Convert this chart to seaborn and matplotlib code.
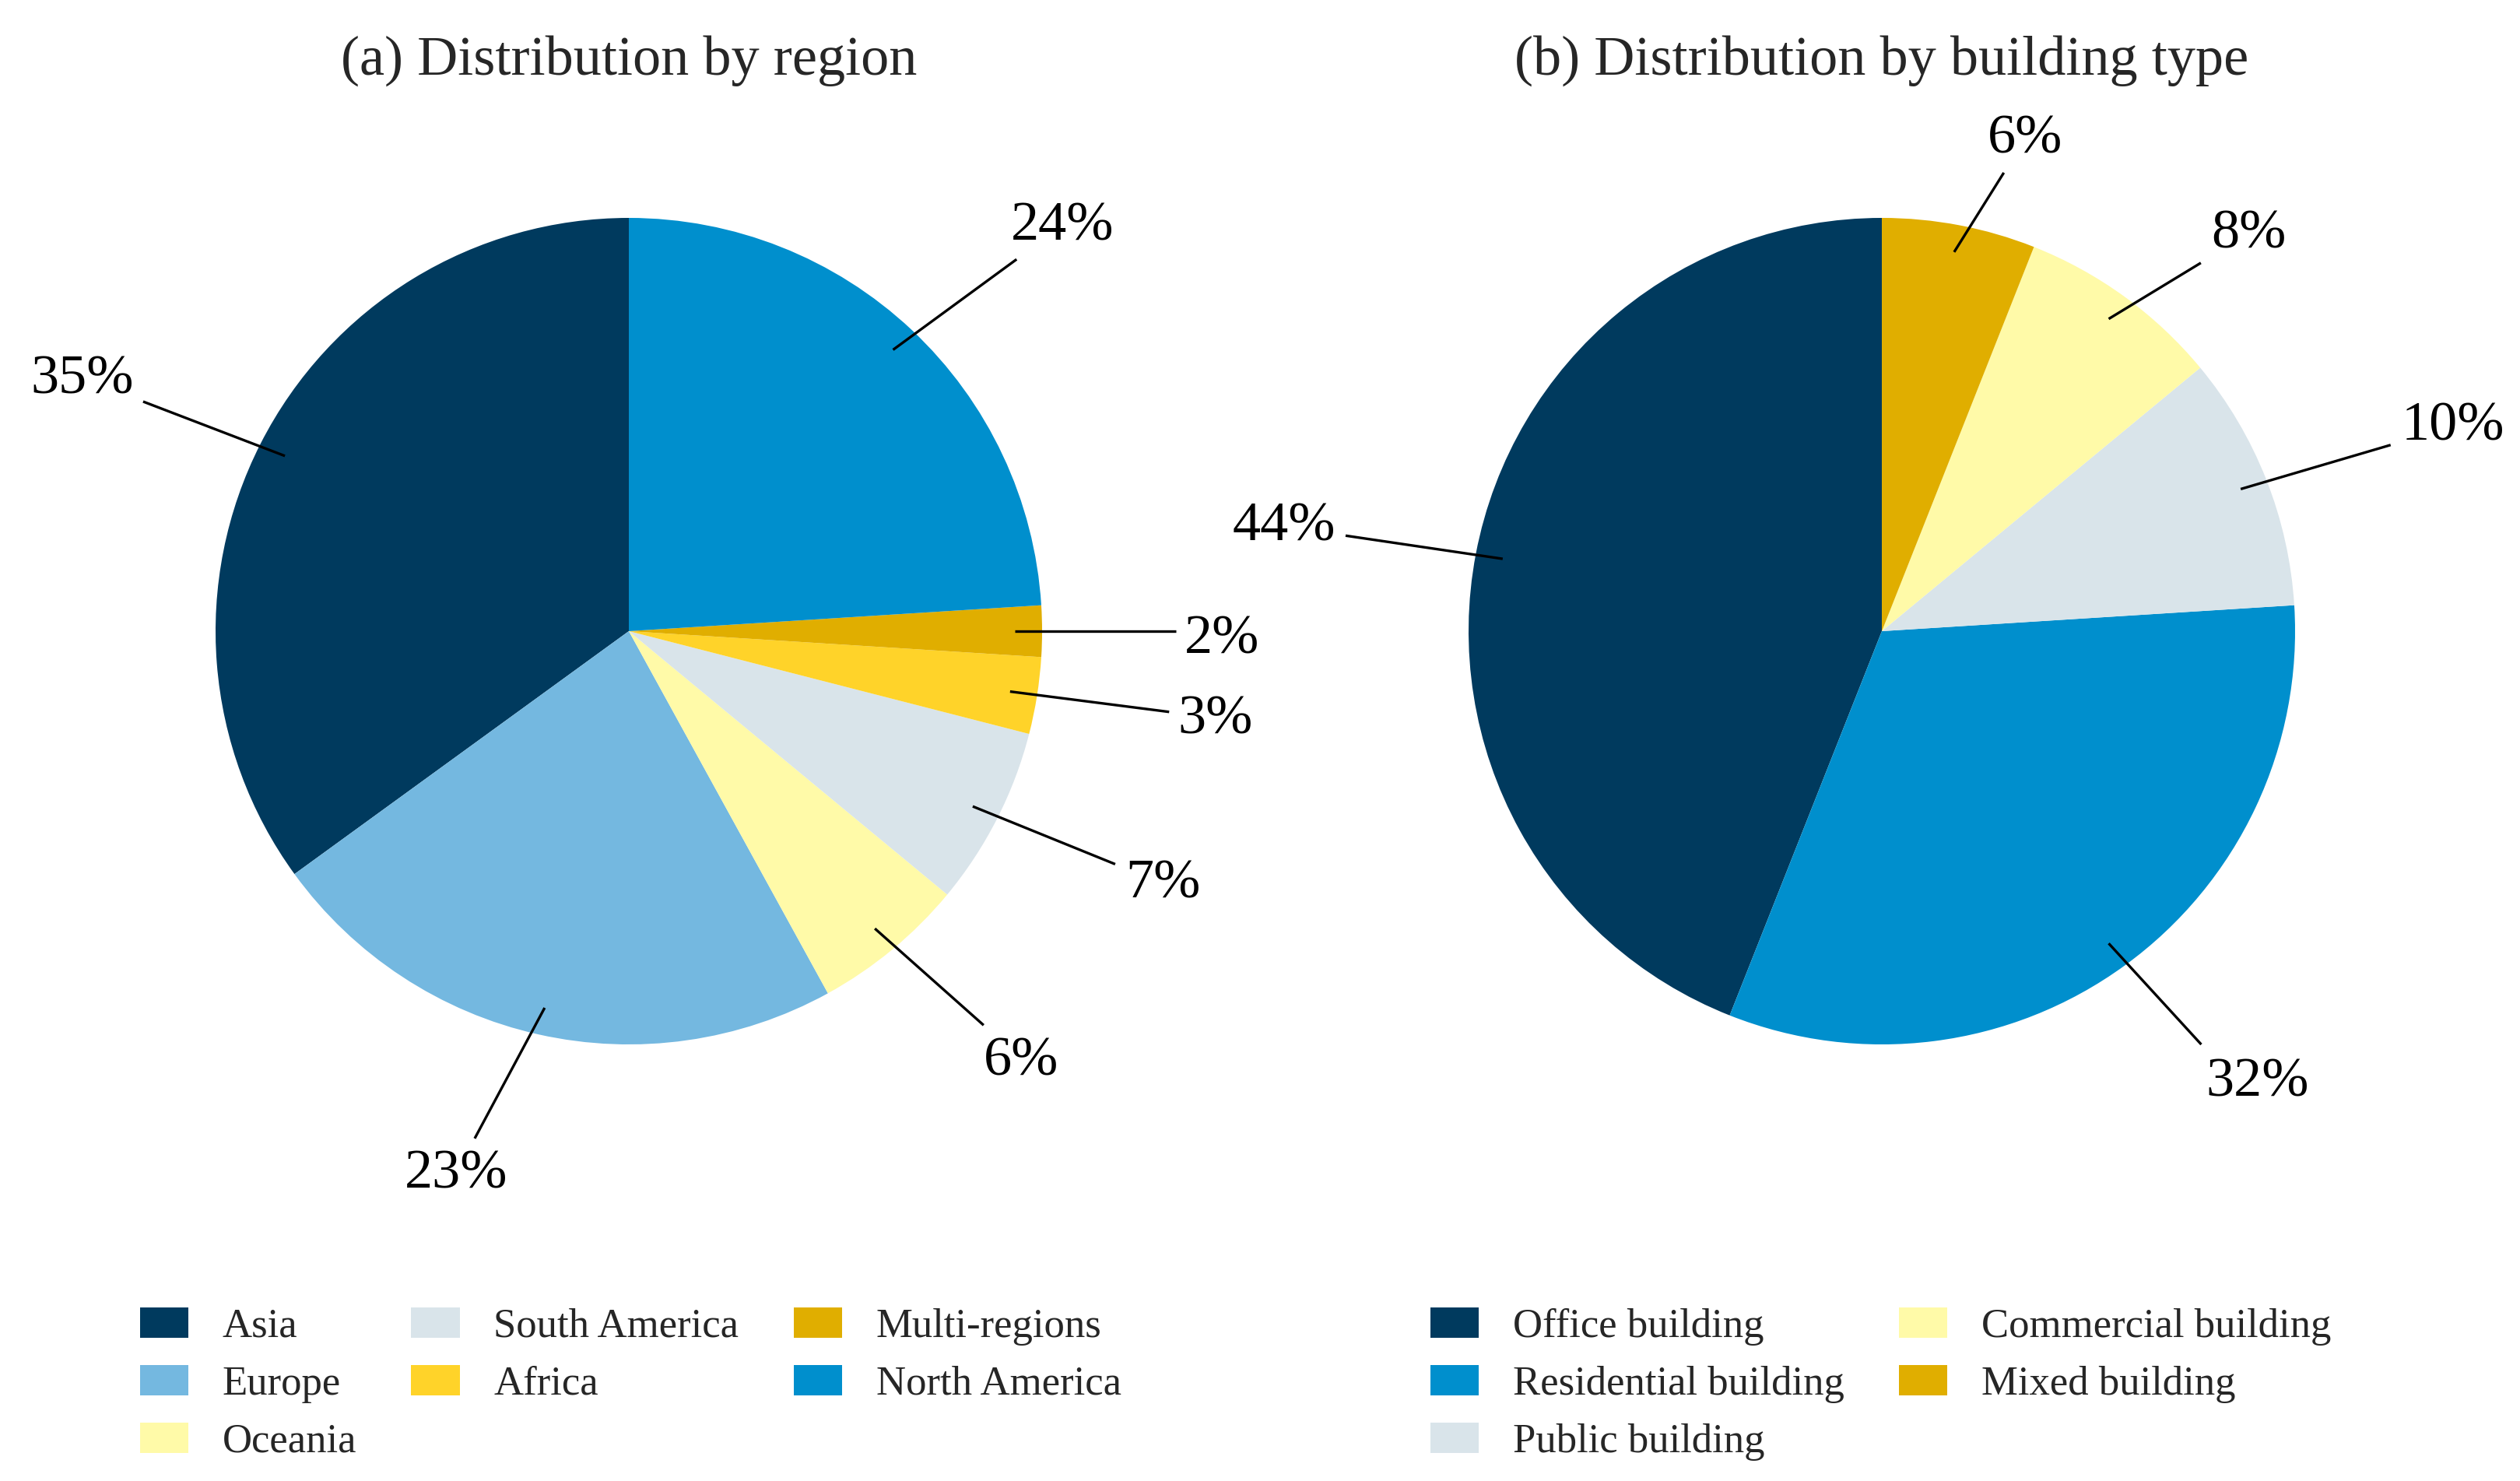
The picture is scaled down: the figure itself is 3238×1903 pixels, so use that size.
import numpy as np
import matplotlib
matplotlib.use("Agg")
import matplotlib.pyplot as plt
from matplotlib.patches import Patch
import seaborn as sns

# ---------------- data ----------------
regions = ["Asia", "Europe", "Oceania", "South America", "Africa",
           "Multi-regions", "North America"]
region_share = [35, 23, 6, 7, 3, 2, 24]

building_types = ["Office building", "Residential building", "Public building",
                  "Commercial building", "Mixed building"]
building_share = [44, 32, 10, 8, 6]

# ---------------- style ----------------
region_colors = ["#003A5E", "#74B8E0", "#FFFAA8", "#D9E4EA", "#FFD329",
                 "#E0AE00", "#008FCD"]
building_colors = ["#003A5E", "#008FCD", "#D9E4EA", "#FFFAA8", "#E0AE00"]

# label layout: leader-line end radius / angle offset, text radius / angle offset
region_line_end = [1.300, 1.283, 1.283, 1.305, 1.322, 1.324, 1.300]
region_line_off = [1.7, -4.3, 2.4, 1.4, 0.5, 0.0, -3.0]
region_text_r = [1.461, 1.367, 1.399, 1.425, 1.434, 1.435, 1.444]
region_text_off = [1.8, -5.2, 3.1, 2.1, 0.9, -0.3, -3.4]

building_line_end = [1.318, 1.264, 1.311, 1.179, 1.148]
building_line_off = [0.7, 1.7, -1.5, -4.9, -4.1]
building_text_r = [1.471, 1.410, 1.473, 1.318, 1.252]
building_text_off = [0.4, 4.1, -1.4, -6.4, -5.3]

sns.set_theme(style="white")
plt.rcParams["font.family"] = ["Liberation Serif", "DejaVu Serif"]

W, H, DPI = 3238, 1903, 200
fig = plt.figure(figsize=(W / DPI, H / DPI), dpi=DPI)

R_PX = 531.0
SPAN = 1.5
LABEL_FS = 26
LINE_START = 0.934


def make_ax(cx, cy):
    w = 2 * SPAN * R_PX / W
    h = 2 * SPAN * R_PX / H
    return fig.add_axes([cx / W - w / 2, 1 - cy / H - h / 2, w, h])


def draw_pie(ax, values, colors, line_end, line_off, text_r, text_off):
    wedges, _ = ax.pie(values, colors=colors, startangle=90, counterclock=True,
                       radius=1.0, wedgeprops=dict(linewidth=0, edgecolor="none"))
    ax.set_xlim(-SPAN, SPAN)
    ax.set_ylim(-SPAN, SPAN)
    ax.set_aspect("equal")
    ax.axis("off")
    fs_px = LABEL_FS * DPI / 72.0
    half_digit = 0.338 * fs_px / R_PX
    for w, v, le, lo, tr, to in zip(wedges, values, line_end, line_off,
                                    text_r, text_off):
        mid = np.deg2rad((w.theta1 + w.theta2) / 2)
        a_line = mid + np.deg2rad(lo)
        a_text = mid + np.deg2rad(to)
        ax.plot([LINE_START * np.cos(mid), le * np.cos(a_line)],
                [LINE_START * np.sin(mid), le * np.sin(a_line)],
                color="black", lw=1.2, solid_capstyle="butt", clip_on=False)
        ax.text(tr * np.cos(a_text), tr * np.sin(a_text) - half_digit, f"{v}%",
                ha="center", va="baseline", fontsize=LABEL_FS, color="black",
                clip_on=False)


ax1 = make_ax(808, 811)
draw_pie(ax1, region_share, region_colors, region_line_end, region_line_off,
         region_text_r, region_text_off)
ax2 = make_ax(2418, 811)
draw_pie(ax2, building_share, building_colors, building_line_end,
         building_line_off, building_text_r, building_text_off)

fig.text(808 / W, 1 - 78 / H, "(a) Distribution by region", ha="center",
         va="center", fontsize=26)
fig.text(2418 / W, 1 - 78 / H, "(b) Distribution by building type",
         ha="center", va="center", fontsize=26)

leg_kw = dict(frameon=False, fontsize=19, handlelength=1.18, handleheight=0.78,
              handletextpad=0.83, columnspacing=1.33, labelspacing=0.47,
              borderpad=0.4, loc="upper left")

h1 = [Patch(facecolor=c, edgecolor="none") for c in region_colors]
fig.legend(h1, regions, ncol=3, bbox_to_anchor=(132 / W, 1 - 1632 / H),
           **leg_kw)
h2 = [Patch(facecolor=c, edgecolor="none") for c in building_colors]
fig.legend(h2, building_types, ncol=2, bbox_to_anchor=(1790 / W, 1 - 1632 / H),
           **leg_kw)

fig.savefig("out.png", dpi=DPI, facecolor="white")
